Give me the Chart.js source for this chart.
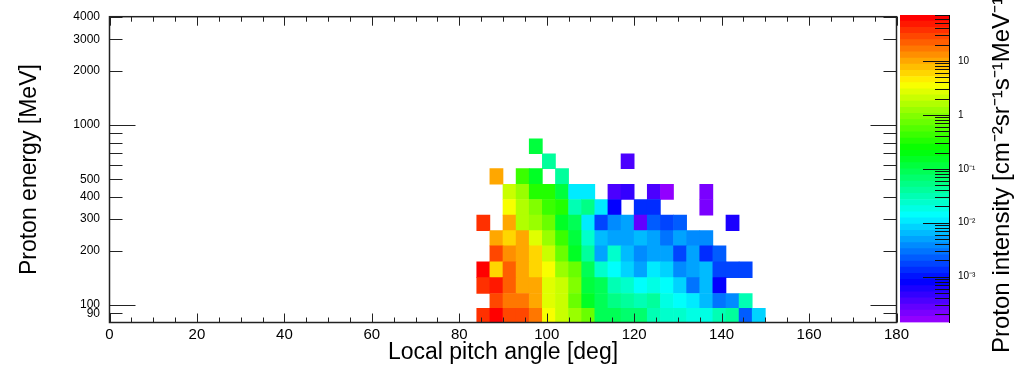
<!DOCTYPE html>
<html>
<head>
<meta charset="utf-8">
<script src="https://cdn.jsdelivr.net/npm/chart.js@4.4.1/dist/chart.umd.min.js"></script>
<style>
  html, body { margin: 0; padding: 0; background: #fff; }
  #wrap { position: relative; width: 1017px; height: 370px; }
  #wrap canvas { position: absolute; left: 0; top: 0; }
</style>
</head>
<body>
<div id="wrap">
  <canvas id="map" width="1017" height="370"></canvas>
  <canvas id="bar" width="1017" height="370"></canvas>
</div>
<script>
// pitch angle bin centres (deg), 3 deg wide
const pitchAngle = [85.5, 88.5, 91.5, 94.5, 97.5, 100.5, 103.5, 106.5, 109.5, 112.5, 115.5,
                    118.5, 121.5, 124.5, 127.5, 130.5, 133.5, 136.5, 139.5, 142.5, 145.5, 148.5];
// energy bin edges (MeV)
const energyEdges = [80, 96, 116, 142, 174, 213, 259, 316, 386, 469, 573, 693, 839];

// proton intensity per energy bin, one value per pitch angle bin (null = empty)
const row0  = [37, 62, 25, 28, 18, 3.8, 2.2, 1.3, 0.65, 0.093, 0.078, 0.066, 0.066, 0.027, 0.022, 0.022, 0.019, 0.019, 0.027, 0.039, 0.0023, 0.0081];
const row1  = [null, 28, 18, 15, 8.7, 2.6, 2.2, 0.78, 0.16, 0.078, 0.055, 0.039, 0.032, 0.039, 0.019, 0.0135, 0.0098, 0.0068, 0.0028, 0.004, 0.032, null];
const row2  = [37, 48, 21, 10.5, 10.5, 2.6, 2.2, 0.91, 0.11, 0.078, 0.027, 0.022, 0.0135, 0.019, 0.0135, 0.0081, 0.0028, 0.0068, 0.00079, null, null, null];
const row3  = [62, 6.2, 21, 10.5, 6.2, 3.2, 1.3, 0.65, 0.093, 0.022, 0.0135, 0.0081, 0.0048, 0.0115, 0.0081, 0.0033, 0.0048, 0.0068, 0.0016, 0.0019, 0.0019, null];
const row4  = [null, 28, 12, 8.7, 5.2, 1.8, 0.65, 0.16, 0.039, 0.0048, 0.022, 0.0056, 0.004, 0.0048, 0.0048, 0.0016, 0.0048, 0.0014, 0.0023, null, null, null];
const row5  = [null, 10.5, 6.2, 8.7, 2.6, 1.3, 0.46, 0.11, 0.022, 0.0056, 0.0048, 0.0048, 0.0056, 0.0048, 0.0028, 0.0048, 0.0033, 0.0033, null, null, null, null];
const row6  = [37, null, 8.7, 1.55, 1.3, 0.65, 0.16, 0.078, 0.0098, 0.0017, 0.004, 0.0048, 0.00028, 0.0023, 0.0016, 0.0023, null, null, null, 0.00056, null, null];
const row7  = [null, null, 3.2, 1.55, 0.91, 0.46, 0.32, 0.027, 0.055, 0.0098, 0.00079, null, 0.0013, 0.0013, null, null, null, 0.00023, null, null, null, null];
const row8  = [null, null, 1.8, 1.3, 0.32, 0.32, 0.11, 0.0098, 0.0098, null, 0.0004, 0.00048, null, 0.0004, 0.00017, null, null, 0.00023, null, null, null, null];
const row9  = [null, 8.7, null, 0.4, 0.135, null, 0.039, null, null, null, null, null, null, null, null, null, null, null, null, null, null, null];
const row10 = [null, null, null, null, null, 0.039, null, null, null, null, null, 0.0004, null, null, null, null, null, null, null, null, null, null];
const row11 = [null, null, null, null, 0.11, null, null, null, null, null, null, null, null, null, null, null, null, null, null, null, null, null];
const intensity = [row0, row1, row2, row3, row4, row5, row6, row7, row8, row9, row10, row11];

const xTickLabels = [0, 20, 40, 60, 80, 100, 120, 140, 160, 180];
const xMinorStep = 5;
const yTickLabels = [90, 100, 200, 300, 400, 500, 1000, 2000, 3000, 4000];
const yMinorTicks = [600, 700, 800, 900];
const yMajorTicks = [100, 1000];
const zTickValues = [0.001, 0.01, 0.1, 1, 10];
const zTickText = ['10\u207B\u00B3', '10\u207B\u00B2', '10\u207B\u00B9', '1', '10'];

// colour scale (log10 limits of the palette)
const Z_LOG_MIN = -3.85;
const Z_LOG_MAX = 1.85;
const N_LEVELS = 50;

const FONT = '"Liberation Sans", Arial, Helvetica, sans-serif';
Chart.defaults.font.family = FONT;
Chart.defaults.color = '#000';

function levelColor(i) {
    const hue = i >= N_LEVELS - 1 ? 0 : 280 - (i + 1) * (280 / N_LEVELS);
    return `hsl(${hue}, 100%, 50%)`;
}

function zColor(v) {
    if (v == null) return 'rgba(0,0,0,0)';
    const f = (Math.log10(v) - Z_LOG_MIN) / (Z_LOG_MAX - Z_LOG_MIN);
    const i = Math.max(0, Math.min(N_LEVELS - 1, Math.floor(f * N_LEVELS)));
    return levelColor(i);
}

const frameTicks = {
    id: 'frameTicks',
    afterDatasetsDraw(chart) {
        const { ctx, chartArea: a, scales: { x, y } } = chart;
        ctx.save();
        ctx.strokeStyle = '#222';
        ctx.lineWidth = 1;
        ctx.beginPath();
        for (let v = 0; v <= 180; v += xMinorStep) {
            const px = Math.round(x.getPixelForValue(v)) + 0.5;
            const len = xTickLabels.includes(v) ? 9 : 5;
            ctx.moveTo(px, a.bottom); ctx.lineTo(px, a.bottom - len);
            ctx.moveTo(px, a.top); ctx.lineTo(px, a.top + len);
        }
        [...yTickLabels, ...yMinorTicks].forEach(v => {
            const py = Math.round(y.getPixelForValue(v)) + 0.5;
            const len = yMajorTicks.includes(v) ? 26 : 13;
            ctx.moveTo(a.left, py); ctx.lineTo(a.left + len, py);
            ctx.moveTo(a.right, py); ctx.lineTo(a.right - len, py);
        });
        ctx.stroke();
        ctx.lineWidth = 1.5;
        ctx.strokeRect(a.left, a.top, a.width, a.height);
        ctx.restore();
    }
};

new Chart(document.getElementById('map').getContext('2d'), {
    type: 'bar',
    data: {
        datasets: intensity.map((vals, r) => ({
            label: energyEdges[r] + '-' + energyEdges[r + 1] + ' MeV',
            data: vals
                .map((v, c) => v == null ? null : { x: pitchAngle[c], y: [energyEdges[r], energyEdges[r + 1]], v })
                .filter(Boolean),
            backgroundColor: ctx => zColor(ctx.raw ? ctx.raw.v : null),
            borderWidth: 0,
            grouped: false,
            barPercentage: 1,
            categoryPercentage: 1
        }))
    },
    options: {
        responsive: false,
        animation: false,
        layout: { padding: { left: 0, top: 15, right: 120.5, bottom: 0 } },
        scales: {
            x: {
                type: 'linear',
                min: 0,
                max: 180,
                offset: false,
                afterBuildTicks: s => { s.ticks = xTickLabels.map(v => ({ value: v })); },
                afterFit: s => { s.height = 47.5; },
                grid: { display: false, drawTicks: false },
                border: { display: false },
                ticks: { autoSkip: false, maxRotation: 0, padding: 3, font: { size: 15 } },
                title: {
                    display: true,
                    text: 'Local pitch angle [deg]',
                    font: { size: 23 },
                    padding: { top: 0, bottom: 4 }
                }
            },
            y: {
                type: 'logarithmic',
                min: 80,
                max: 4000,
                afterBuildTicks: s => { s.ticks = yTickLabels.map(v => ({ value: v })); },
                afterFit: s => { s.width = 109.5; },
                grid: { display: false, drawTicks: false },
                border: { display: false },
                ticks: { autoSkip: false, padding: 9.5, font: { size: 12 }, callback: v => String(v) },
                title: {
                    display: true,
                    text: 'Proton energy [MeV]',
                    font: { size: 23 },
                    padding: { top: 16, bottom: 0 }
                }
            }
        },
        plugins: {
            legend: { display: false },
            tooltip: { enabled: false }
        }
    },
    plugins: [frameTicks]
});

// colour bar
const barTicks = {
    id: 'barTicks',
    afterDatasetsDraw(chart) {
        const { ctx, chartArea: a, scales: { y } } = chart;
        ctx.save();
        ctx.strokeStyle = '#111';
        ctx.lineWidth = 1;
        ctx.beginPath();
        for (let e = Math.floor(Z_LOG_MIN); e <= Math.ceil(Z_LOG_MAX); e++) {
            for (let m = 1; m <= 9; m++) {
                const v = m * Math.pow(10, e);
                const lv = Math.log10(v);
                if (lv < Z_LOG_MIN || lv > Z_LOG_MAX) continue;
                const py = Math.round(y.getPixelForValue(v)) + 0.5;
                const len = m === 1 ? 26 : 14;
                ctx.moveTo(a.right, py); ctx.lineTo(a.right - len, py);
            }
        }
        ctx.stroke();
        ctx.restore();
    },
    afterDraw(chart) {
        const { ctx } = chart;
        ctx.save();
        ctx.translate(1002, 353);
        ctx.rotate(-Math.PI / 2);
        ctx.fillStyle = '#000';
        ctx.font = '24px ' + FONT;
        ctx.textAlign = 'left';
        ctx.textBaseline = 'middle';
        ctx.fillText('Proton intensity [cm\u207B\u00B2sr\u207B\u00B9s\u207B\u00B9MeV\u207B\u00B9]', 0, 0);
        ctx.restore();
    }
};

const levelIndex = Array.from({ length: N_LEVELS }, (_, i) => i);
const step = (Z_LOG_MAX - Z_LOG_MIN) / N_LEVELS;

new Chart(document.getElementById('bar').getContext('2d'), {
    type: 'bar',
    data: {
        labels: [''],
        datasets: levelIndex.map(i => ({
            data: [[Math.pow(10, Z_LOG_MIN + i * step), Math.pow(10, Z_LOG_MIN + (i + 1) * step)]],
            backgroundColor: levelColor(i),
            borderWidth: 0,
            grouped: false,
            barPercentage: 1,
            categoryPercentage: 1
        }))
    },
    options: {
        responsive: false,
        animation: false,
        layout: { padding: { left: 900, top: 15, right: 0, bottom: 47.5 } },
        scales: {
            x: { display: false },
            y: {
                type: 'logarithmic',
                position: 'right',
                min: Math.pow(10, Z_LOG_MIN),
                max: Math.pow(10, Z_LOG_MAX),
                afterBuildTicks: s => { s.ticks = zTickValues.map(v => ({ value: v })); },
                afterFit: s => { s.width = 68; },
                grid: { display: false, drawTicks: false },
                border: { display: true, color: '#000', width: 1 },
                ticks: {
                    autoSkip: false,
                    padding: 9,
                    font: { size: 10 },
                    callback: v => zTickText[zTickValues.indexOf(v)] ?? ''
                }
            }
        },
        plugins: {
            legend: { display: false },
            tooltip: { enabled: false }
        }
    },
    plugins: [barTicks]
});
</script>
</body>
</html>
